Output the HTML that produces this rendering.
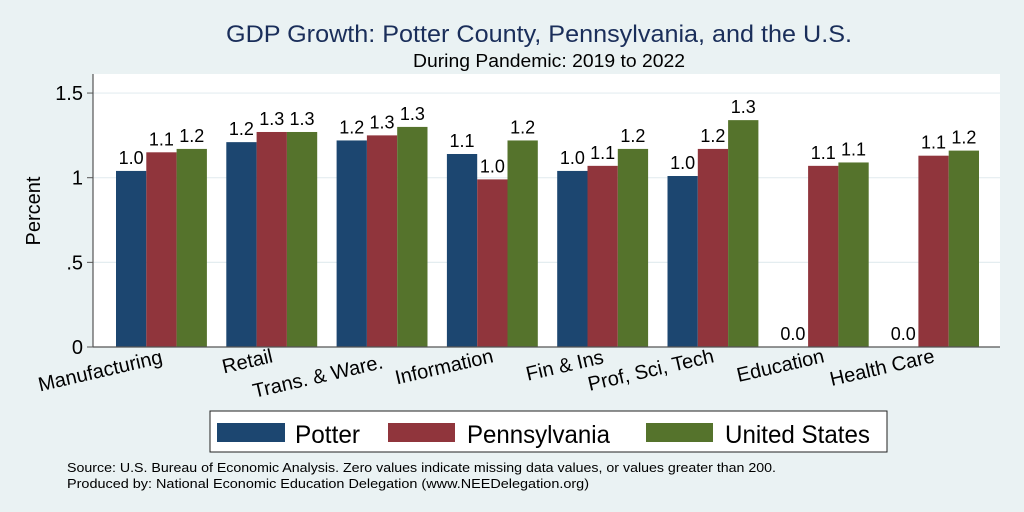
<!DOCTYPE html>
<html><head><meta charset="utf-8"><style>
body{margin:0;background:#eaf2f3;}
svg{display:block;font-family:"Liberation Sans",Arial,sans-serif;}
</style></head><body>
<svg id="c" width="1024" height="512" viewBox="0 0 1024 512">
<rect width="1024" height="512" fill="#eaf2f3"/>
<text x="539" y="42" text-anchor="middle" font-size="24" textLength="626" lengthAdjust="spacingAndGlyphs" fill="#1a2e5a">GDP Growth: Potter County, Pennsylvania, and the U.S.</text>
<text x="549" y="67" text-anchor="middle" font-size="18" textLength="272" lengthAdjust="spacingAndGlyphs" fill="#000">During Pandemic: 2019 to 2022</text>
<rect x="93" y="74" width="907" height="273" fill="#fff"/>
<g id="grid"></g>
<g id="bars"></g>
<line x1="93" y1="74" x2="93" y2="347" stroke="#555" stroke-width="1.2"/>
<line x1="93" y1="347" x2="1000" y2="347" stroke="#555" stroke-width="1.2"/>
<text transform="translate(40,211) rotate(-90)" text-anchor="middle" font-size="20">Percent</text>
<g>
<rect x="210" y="411" width="677" height="41" fill="#fff" stroke="#222" stroke-width="1"/>
<rect x="217" y="423" width="68" height="19" fill="#1c4670"/>
<text x="295" y="443" font-size="25" textLength="65" lengthAdjust="spacingAndGlyphs">Potter</text>
<rect x="388" y="423" width="67" height="19" fill="#90353c"/>
<text x="467" y="443" font-size="25" textLength="143" lengthAdjust="spacingAndGlyphs">Pennsylvania</text>
<rect x="646" y="423" width="67" height="19" fill="#55732c"/>
<text x="725" y="443" font-size="25" textLength="145" lengthAdjust="spacingAndGlyphs">United States</text>
</g>
<text x="67" y="472" font-size="13" textLength="709" lengthAdjust="spacingAndGlyphs">Source: U.S. Bureau of Economic Analysis. Zero values indicate missing data values, or values greater than 200.</text>
<text x="67" y="488" font-size="13" textLength="522" lengthAdjust="spacingAndGlyphs">Produced by: National Economic Education Delegation (www.NEEDelegation.org)</text>
</svg>
<script>
const categories=["Manufacturing","Retail","Trans. & Ware.","Information","Fin & Ins","Prof, Sci, Tech","Education","Health Care"];
const potter=[1.04,1.21,1.22,1.14,1.04,1.01,0,0];
const pennsylvania=[1.15,1.27,1.25,0.99,1.07,1.17,1.07,1.13];
const unitedStates=[1.17,1.27,1.30,1.22,1.17,1.34,1.09,1.16];
const yTicks=[0,0.5,1,1.5];
const yTickLabels=["0",".5","1","1.5"];
const labelDrop=[15,14,20,14,15,14,14,14];
const NS="http://www.w3.org/2000/svg";
const y=v=>347-v*169.3;
const gx=i=>116+i*110.3;
const bw=30.3;
const grid=document.getElementById('grid'),bars=document.getElementById('bars');
function mk(t,a,p){const e=document.createElementNS(NS,t);for(const k in a)e.setAttribute(k,a[k]);p.appendChild(e);return e;}
yTicks.forEach((t,i)=>{
 if(t>0){const g=mk('line',{x1:93,x2:1000,y1:y(t),y2:y(t),stroke:'#e4edf0','stroke-width':1.2},grid);
 
 }
 const tk=mk('line',{x1:87,x2:93,y1:y(t),y2:y(t),stroke:'#555'},grid);
 
 
 const tx=mk('text',{x:83,y:y(t)+7,'text-anchor':'end','font-size':20},grid);
 tx.textContent=yTickLabels[i];
 
 
});
const series=[[potter,'#1c4670','potter'],[pennsylvania,'#90353c','pennsylvania'],[unitedStates,'#55732c','united-states']];
categories.forEach((c,i)=>{
 series.forEach(([vals,col,nm],j)=>{
  const x=gx(i)+j*bw,v=vals[i];
  const r=mk('rect',{x:x,y:y(v),width:bw,height:347-y(v),fill:col},bars);
  
  
  const t=mk('text',{x:x+bw/2,y:y(v)-7,'text-anchor':'middle','font-size':18},bars);
  t.textContent=v.toFixed(1);
  
  
 });
 const cx=gx(i)+bw*1.5+2;
 const l=mk('text',{transform:`translate(${cx},${348+labelDrop[i]}) rotate(-13)`,'text-anchor':'end','font-size':20},bars);
 l.textContent=c;
 
 
});
</script>
</body></html>
